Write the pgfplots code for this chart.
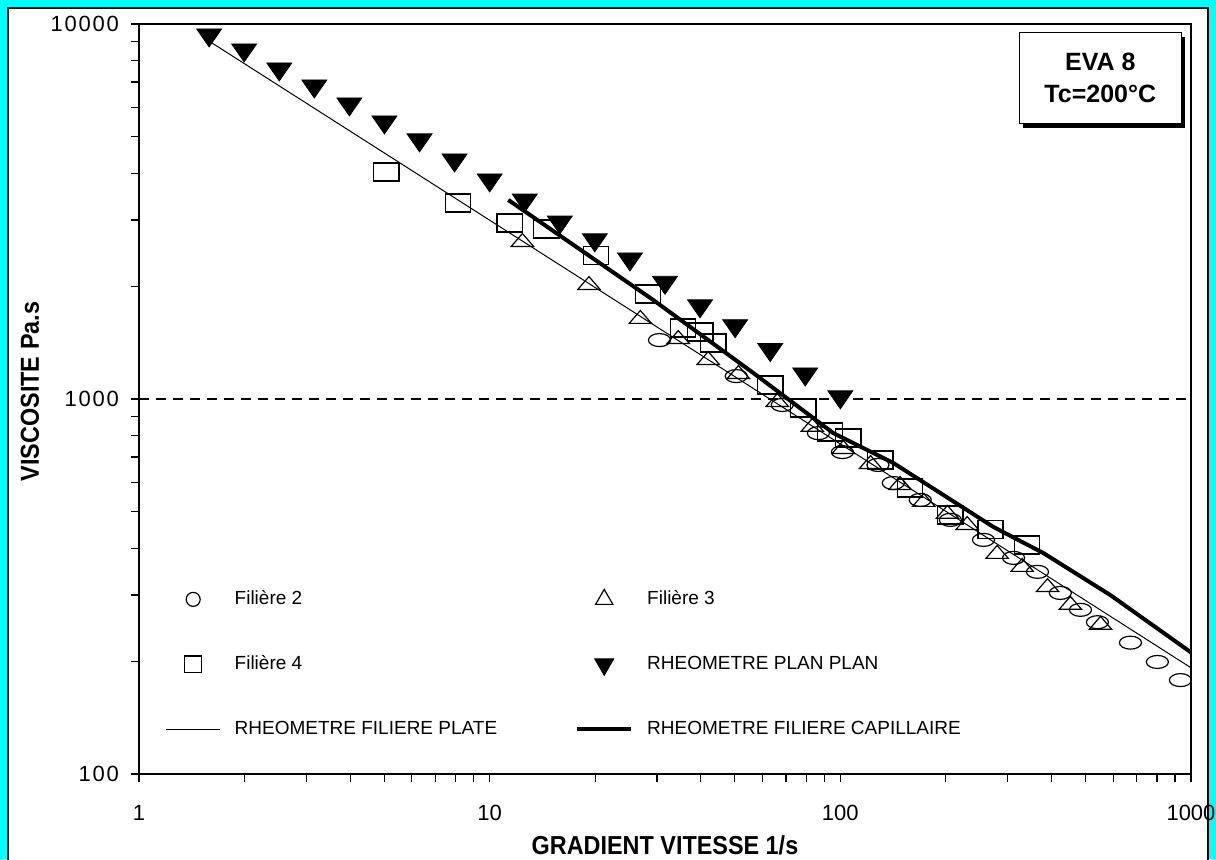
\documentclass[border=0pt]{standalone}
\usepackage{fontspec}
\setmainfont{Liberation Sans}
\usepackage{graphicx}
\usepackage{pgfplots}
\pgfplotsset{compat=1.18}
\usetikzlibrary{shadows}
\definecolor{bgcyan}{RGB}{0,255,255}
\pgfplotsset{myleg/.style={legend image code/.code={\draw[mark repeat=2,mark phase=2,##1] plot coordinates {(0pt,0pt) (13.5pt,0pt) (27pt,0pt)};}}}

\pgfplotstableread{
x y
30.5 1436
50.5 1151
68.3 964
86.6 811
101.4 722
128 667
141.6 597
169 538
206 476
256 421
312 377
365 346
424 304
484 274
541 254
672 224
802 199
933 178
}\filieredeux

\pgfplotstableread{
x y
12.4 2655
19.2 2038
26.9 1655
34.5 1463
42.0 1286
51.2 1180
66.1 994
83.2 853
102 745
122 679
148 597
173 538
202 500
230 467
280 391
330 361
390 319
453 286
552 253
}\filieretrois

\pgfplotstableread{
x y
5.07 4030
8.13 3330
11.4 2950
14.5 2840
20.1 2410
28.3 1905
35.6 1546
39.9 1510
43.4 1410
63.1 1089
78.4 946
93.5 817
105.4 787
130 688
158 579
206 491
268 448
341 408
}\filierequatre

\pgfplotstableread{
x y
1.585 9180
1.995 8370
2.512 7450
3.162 6710
3.981 6010
5.012 5380
6.310 4820
7.943 4260
10 3770
12.59 3330
15.85 2910
19.95 2610
25.12 2320
31.62 2010
39.81 1740
50.12 1540
63.10 1330
79.43 1145
100 995
}\planplan

\pgfplotstableread{
x y
1.6 8950
1000 192
}\plate

\pgfplotstableread{
x y
11.3 3395
29.3 1836
56.5 1173
95.5 811
141.7 675
273 456
380 388
589 300
1000 211
}\capillaire

\begin{document}
\begin{tikzpicture}
\useasboundingbox (-69.5pt,-42.5pt) rectangle (538.5pt,387pt);
\fill[bgcyan] (-69.5pt,-42.5pt) rectangle (538.5pt,387pt);
\filldraw[fill=white, draw=black, line width=0.6pt] (-65.5pt,-50pt) rectangle (534.5pt,383pt);
\begin{axis}[
  at={(0pt,0pt)}, anchor=south west,
  scale only axis, width=526pt, height=375pt,
  xmode=log, ymode=log,
  xmin=1, xmax=1000, ymin=100, ymax=10000,
  xtick={1,10,100,1000}, xticklabels={1,10,100,1000},
  ytick={100,1000,10000}, yticklabels={100,1000,10000},
  tick pos=left,
  tick align=outside,
  major tick length=4pt, minor tick length=4pt,
  tick style={black, line width=0.6pt},
  axis line style={line width=0.8pt},
  ymajorgrids,
  major grid style={black, line width=0.6pt, dash pattern=on 5pt off 3.5pt},
  xticklabel style={font=\fontsize{11}{13}\selectfont, anchor=north, yshift=-8pt},
  yticklabel style={font=\fontsize{11}{13}\selectfont\addfontfeature{LetterSpace=8}, anchor=east, xshift=-2.5pt},
  xlabel={\scalebox{0.9}[1]{\bfseries GRADIENT VITESSE 1/s}},
  xlabel style={font=\fontsize{13}{15}\selectfont, at={(axis description cs:0.5,-0.0947)}, anchor=center, inner sep=0pt},
  ylabel={\scalebox{0.9}[1]{\bfseries VISCOSITE Pa.s}},
  ylabel style={font=\fontsize{13}{15}\selectfont, at={(axis description cs:-0.1036,0.51)}, anchor=center},
  legend columns=2,
  legend cell align=left,
  legend style={draw=none, fill=none, at={(rel axis cs:0.025,0.25)}, anchor=north west,
    font=\fontsize{9.5}{11}\selectfont, row sep=20pt, inner sep=0pt,
    /tikz/every odd column/.append style={column sep=5pt},
    /tikz/every even column/.append style={column sep=37pt}},
]
\addplot[black, only marks, mark=o, mark size=3.25pt, mark options={xscale=1.7, line width=0.6pt}, forget plot] table {\filieredeux};
\addplot[black, only marks, mark=triangle, mark size=4.3pt, mark options={yshift=-1.07pt, xscale=1.5, line width=0.6pt}, forget plot] table {\filieretrois};
\addplot[black, only marks, mark=square, mark size=4.5pt, mark options={xscale=1.4, line width=0.7pt}, forget plot] table {\filierequatre};
\addplot[black, only marks, mark=triangle*, mark size=6pt, mark options={yshift=1.5pt, rotate=180, xscale=1.2, fill=black}, forget plot] table {\planplan};
\addplot[black, line width=0.5pt, no marks, forget plot] table {\plate};
\addplot[black, line width=2pt, no marks, forget plot] table {\capillaire};

\addlegendimage{black, only marks, mark=o, mark size=3.5pt, mark options={line width=0.6pt}, myleg}
\addlegendimage{black, only marks, mark=triangle, mark size=5pt, mark options={line width=0.6pt}, myleg}
\addlegendimage{black, only marks, mark=square, mark size=4.2pt, mark options={line width=0.7pt}, myleg}
\addlegendimage{black, only marks, mark=triangle*, mark size=5.5pt, mark options={rotate=180, fill=black}, myleg}
\addlegendimage{black, line width=0.5pt, no marks, myleg}
\addlegendimage{black, line width=2pt, no marks, myleg}
\legend{Filière 2, Filière 3, Filière 4, RHEOMETRE PLAN PLAN, RHEOMETRE FILIERE PLATE, RHEOMETRE FILIERE CAPILLAIRE}

\node[draw, fill=white, line width=0.7pt, drop shadow={shadow xshift=2pt, shadow yshift=-2pt, fill=black, opacity=1},
  align=center, font=\bfseries\fontsize{12.5}{16}\selectfont, minimum width=81pt, minimum height=45.5pt,
  anchor=north east, inner sep=2pt] at ([xshift=-4.5pt,yshift=-4pt]rel axis cs:1,1) {EVA 8\\Tc=200°C};
\end{axis}
\end{tikzpicture}
\end{document}
